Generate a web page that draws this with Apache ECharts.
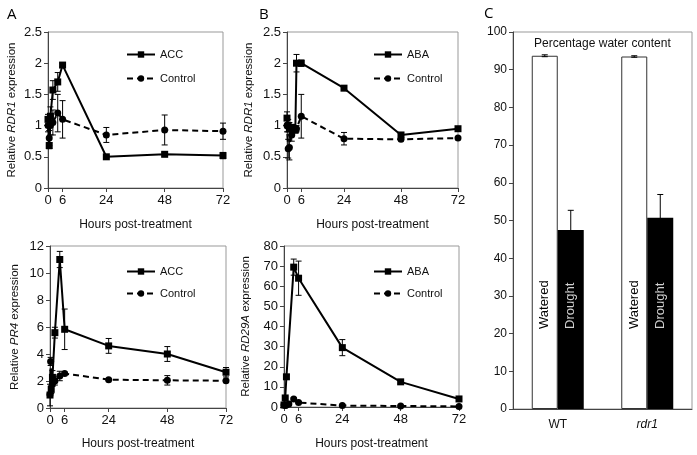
<!DOCTYPE html>
<html><head><meta charset="utf-8">
<script src="https://cdn.jsdelivr.net/npm/echarts@6/dist/echarts.min.js"></script>
<style>html,body{margin:0;padding:0;background:#fff}#c{width:697px;height:455px}</style>
</head><body><div id="c"></div>
<script>
// ---- Panel A (top): RDR1 after ACC ----
const accRdr1Hours = [0, 0.5, 1, 2, 4, 6, 24, 48, 72];
const accRdr1Values = [1.1, 0.68, 1.15, 1.57, 1.7, 1.97, 0.5, 0.54, 0.52];
const accRdr1Err = [0.08, 0.05, 0.15, 0.15, 0.15, 0.03, 0.02, 0.03, 0.05];
const ctlARdr1Hours = [0, 0.5, 1, 2, 4, 6, 24, 48, 72];
const ctlARdr1Values = [1.0, 0.8, 1.0, 1.05, 1.2, 1.1, 0.85, 0.93, 0.91];
const ctlARdr1Err = [0.1, 0.12, 0.15, 0.2, 0.3, 0.3, 0.12, 0.24, 0.13];
// ---- Panel B (top): RDR1 after ABA ----
const abaRdr1Hours = [0, 0.5, 1, 2, 3.5, 4, 6, 24, 48, 72];
const abaRdr1Values = [1.12, 1.0, 0.95, 0.97, 0.93, 2.0, 2.0, 1.6, 0.85, 0.95];
const abaRdr1Err = [0.1, 0.1, 0.1, 0.05, 0.05, 0.14, 0.05, 0.02, 0.02, 0.02];
const ctlBRdr1Hours = [0, 0.5, 1, 2, 4, 6, 24, 48, 72];
const ctlBRdr1Values = [1.0, 0.63, 0.65, 0.85, 0.95, 1.15, 0.79, 0.78, 0.8];
const ctlBRdr1Err = [0.1, 0.15, 0.2, 0.1, 0.05, 0.35, 0.1, 0.02, 0.02];
// ---- Panel A (bottom): PR4 after ACC ----
const accPr4Hours = [0, 0.5, 1, 2, 4, 6, 24, 48, 72];
const accPr4Values = [0.96, 1.38, 2.27, 5.58, 11.0, 5.83, 4.6, 4.0, 2.65];
const accPr4Err = [0.8, 0.3, 0.5, 0.4, 0.6, 1.5, 0.55, 0.55, 0.35];
const ctlPr4Hours = [0, 0.25, 1, 2, 4, 6, 24, 48, 72];
const ctlPr4Values = [1.0, 3.45, 1.8, 2.0, 2.37, 2.55, 2.1, 2.05, 2.02];
const ctlPr4Err = [0.1, 0.3, 0.2, 0.3, 0.35, 0.1, 0.05, 0.35, 0.1];
// ---- Panel B (bottom): RD29A after ABA ----
const abaRd29Hours = [0, 0.5, 1, 4, 6, 24, 48, 72];
const abaRd29Values = [1.0, 4.5, 15.0, 69.5, 64.0, 29.5, 12.5, 4.0];
const abaRd29Err = [0.3, 0.5, 1, 4, 8.5, 4, 1, 0.5];
const ctlRd29Hours = [0, 0.5, 1, 2, 4, 6, 24, 48, 72];
const ctlRd29Values = [1.0, 0.8, 1.0, 1.5, 4.0, 2.2, 0.7, 0.5, 0.3];
const ctlRd29Err = [0.2, 0.2, 0.2, 0.3, 0.5, 0.4, 0.2, 0.2, 0.2];
// ---- Panel C: percentage water content ----
const waterCategories = ['WT', 'rdr1'];
const wateredValues = [93.7, 93.5];
const wateredErr = [0.25, 0.2];
const droughtValues = [47.5, 50.7];
const droughtErr = [5.2, 6.2];
// tick labels
const hourTicks = [0, 6, 24, 48, 72];

const FONT = "'Liberation Sans', Arial, sans-serif";
const chart = echarts.init(document.getElementById('c'), null, {renderer: 'canvas'});

function lineSeries(name, hours, values, idx, dashed, symbol) {
  return {
    type: 'line', name, xAxisIndex: idx, yAxisIndex: idx,
    data: hours.map((h, i) => [h, values[i]]),
    symbol, symbolSize: 7, showSymbol: true,
    lineStyle: {color: '#000', width: 2, type: dashed ? [6, 4] : 'solid'},
    itemStyle: {color: '#000'}, z: 3, animation: false
  };
}
function errSeries(hours, values, errs, idx) {
  return {
    type: 'custom', xAxisIndex: idx, yAxisIndex: idx, z: 2, animation: false,
    data: hours.map((h, i) => [h, values[i] - errs[i], values[i] + errs[i]]),
    encode: {x: 0, y: [1, 2]},
    renderItem: (params, api) => {
      const x = api.value(0);
      const lo = api.coord([x, api.value(1)]);
      const hi = api.coord([x, api.value(2)]);
      const w = 3, st = {stroke: '#000', lineWidth: 1};
      return {type: 'group', children: [
        {type: 'line', shape: {x1: lo[0], y1: lo[1], x2: hi[0], y2: hi[1]}, style: st},
        {type: 'line', shape: {x1: lo[0] - w, y1: lo[1], x2: lo[0] + w, y2: lo[1]}, style: st},
        {type: 'line', shape: {x1: hi[0] - w, y1: hi[1], x2: hi[0] + w, y2: hi[1]}, style: st}
      ]};
    }
  };
}
const axisLineStyle = {lineStyle: {color: '#444', width: 1}};
function hourAxis(idx, gap) {
  return {
    type: 'value', gridIndex: idx, min: 0, max: 72,
    name: 'Hours post-treatment', nameLocation: 'middle', nameGap: gap,
    nameTextStyle: {fontFamily: FONT, fontSize: 12, color: '#111'},
    axisLine: axisLineStyle,
    axisTick: {show: true, customValues: hourTicks, length: 4, lineStyle: {color: '#444'}},
    axisLabel: {customValues: hourTicks, fontFamily: FONT, fontSize: 13, color: '#111', margin: 6},
    splitLine: {show: false}
  };
}
function valAxis(idx, max, interval, gene, gap) {
  return {
    type: 'value', gridIndex: idx, min: 0, max, interval,
    name: 'Relative {i|' + gene + '} expression', nameLocation: 'middle', nameGap: gap,
    nameTextStyle: {fontFamily: FONT, fontSize: 11.5, color: '#111',
      rich: {i: {fontFamily: FONT, fontSize: 11.5, fontStyle: 'italic', color: '#111'}}},
    axisLine: {show: true, lineStyle: {color: '#444'}},
    axisTick: {show: true, length: 4, lineStyle: {color: '#444'}},
    axisLabel: {fontFamily: FONT, fontSize: 13, color: '#111', margin: 6},
    splitLine: {show: false}
  };
}
const gridBase = {show: true, borderColor: '#999', borderWidth: 1, containLabel: false};
function legend(names, left, top, gap) {
  return {
    data: names, orient: 'vertical', left, top, itemWidth: 28, itemHeight: 8, itemGap: gap,
    selectedMode: false, textStyle: {fontFamily: FONT, fontSize: 11, color: '#111'}
  };
}

const barW = 26;
const option = {
  backgroundColor: '#fff',
  animation: false,
  grid: [
    Object.assign({left: 48, top: 32, width: 175, height: 156}, gridBase),
    Object.assign({left: 287, top: 32, width: 171, height: 156}, gridBase),
    Object.assign({left: 50, top: 246, width: 176, height: 162}, gridBase),
    Object.assign({left: 284, top: 246, width: 175, height: 161}, gridBase),
    Object.assign({left: 513, top: 32, width: 179, height: 377}, gridBase)
  ],
  xAxis: [hourAxis(0, 31), hourAxis(1, 31), hourAxis(2, 30), hourAxis(3, 31), {
    type: 'category', gridIndex: 4, data: waterCategories,
    axisLine: axisLineStyle, axisTick: {show: false},
    axisLabel: {fontFamily: FONT, fontSize: 12, color: '#111', margin: 10,
      formatter: v => v === 'rdr1' ? '{i|rdr1}' : v,
      rich: {i: {fontFamily: FONT, fontSize: 12, fontStyle: 'italic', color: '#111'}}}
  }],
  yAxis: [
    valAxis(0, 2.5, 0.5, 'RDR1', 30),
    valAxis(1, 2.5, 0.5, 'RDR1', 32),
    valAxis(2, 12, 2, 'PR4', 29),
    valAxis(3, 80, 10, 'RD29A', 32),
    {type: 'value', gridIndex: 4, min: 0, max: 100, interval: 10,
      axisLine: {show: true, lineStyle: {color: '#444'}},
      axisTick: {show: true, length: 4, lineStyle: {color: '#444'}},
      axisLabel: {fontFamily: FONT, fontSize: 12, color: '#111', margin: 6},
      splitLine: {show: false}}
  ],
  legend: [
    legend(['ACC', 'Control'], 121, 44, 13),
    legend(['ABA', 'Control'], 368, 44, 13),
    legend(['ACC', 'Control'], 121, 261, 11),
    legend(['ABA', 'Control'], 368, 261, 11)
  ],
  graphic: [
    {type: 'text', left: 7, top: 7, style: {text: 'A', font: "15px 'Open Sans', sans-serif", fill: '#000'}},
    {type: 'text', left: 259, top: 7, style: {text: 'B', font: "15px 'Open Sans', sans-serif", fill: '#000'}},
    {type: 'text', left: 484, top: 6, style: {text: 'C', font: "15px 'Open Sans', sans-serif", fill: '#000'}},
    {type: 'text', left: 534, top: 38, style: {text: 'Percentage water content', font: "12px 'Liberation Sans', Arial, sans-serif", fill: '#111'}}
  ],
  series: [
    errSeries(accRdr1Hours, accRdr1Values, accRdr1Err, 0),
    errSeries(ctlARdr1Hours, ctlARdr1Values, ctlARdr1Err, 0),
    lineSeries('ACC', accRdr1Hours, accRdr1Values, 0, false, 'rect'),
    lineSeries('Control', ctlARdr1Hours, ctlARdr1Values, 0, true, 'circle'),

    errSeries(abaRdr1Hours, abaRdr1Values, abaRdr1Err, 1),
    errSeries(ctlBRdr1Hours, ctlBRdr1Values, ctlBRdr1Err, 1),
    lineSeries('ABA', abaRdr1Hours, abaRdr1Values, 1, false, 'rect'),
    lineSeries('Control', ctlBRdr1Hours, ctlBRdr1Values, 1, true, 'circle'),

    errSeries(accPr4Hours, accPr4Values, accPr4Err, 2),
    errSeries(ctlPr4Hours, ctlPr4Values, ctlPr4Err, 2),
    lineSeries('ACC', accPr4Hours, accPr4Values, 2, false, 'rect'),
    lineSeries('Control', ctlPr4Hours, ctlPr4Values, 2, true, 'circle'),

    errSeries(abaRd29Hours, abaRd29Values, abaRd29Err, 3),
    errSeries(ctlRd29Hours, ctlRd29Values, ctlRd29Err, 3),
    lineSeries('ABA', abaRd29Hours, abaRd29Values, 3, false, 'rect'),
    lineSeries('Control', ctlRd29Hours, ctlRd29Values, 3, true, 'circle'),

    {type: 'bar', name: 'Watered', xAxisIndex: 4, yAxisIndex: 4, data: wateredValues,
      barWidth: barW, barGap: '0%',
      itemStyle: {color: '#fff', borderColor: '#333', borderWidth: 1},
      label: {show: true, position: 'insideBottom', distance: 80, rotate: 90, align: 'left',
        verticalAlign: 'middle', formatter: 'Watered', fontFamily: FONT, fontSize: 13, color: '#000'}},
    {type: 'bar', name: 'Drought', xAxisIndex: 4, yAxisIndex: 4, data: droughtValues,
      barWidth: barW, barGap: '0%',
      itemStyle: {color: '#000'},
      label: {show: true, position: 'insideBottom', distance: 80, rotate: 90, align: 'left',
        verticalAlign: 'middle', formatter: 'Drought', fontFamily: FONT, fontSize: 13, color: '#d0d0d0'}},
    {type: 'custom', xAxisIndex: 4, yAxisIndex: 4, z: 5,
      data: wateredValues.map((v, i) => [i, v - wateredErr[i], v + wateredErr[i], 0])
        .concat(droughtValues.map((v, i) => [i, v - droughtErr[i], v + droughtErr[i], 1])),
      encode: {x: 0, y: [1, 2]},
      renderItem: (params, api) => {
        const off = (api.value(3) === 0 ? -1 : 1) * barW / 2;
        const lo = api.coord([api.value(0), api.value(1)]);
        const hi = api.coord([api.value(0), api.value(2)]);
        const x = lo[0] + off, w = 3, st = {stroke: '#000', lineWidth: 1};
        return {type: 'group', children: [
          {type: 'line', shape: {x1: x, y1: lo[1], x2: x, y2: hi[1]}, style: st},
          {type: 'line', shape: {x1: x - w, y1: lo[1], x2: x + w, y2: lo[1]}, style: st},
          {type: 'line', shape: {x1: x - w, y1: hi[1], x2: x + w, y2: hi[1]}, style: st}
        ]};
      }}
  ]
};
chart.setOption(option);
</script></body></html>
